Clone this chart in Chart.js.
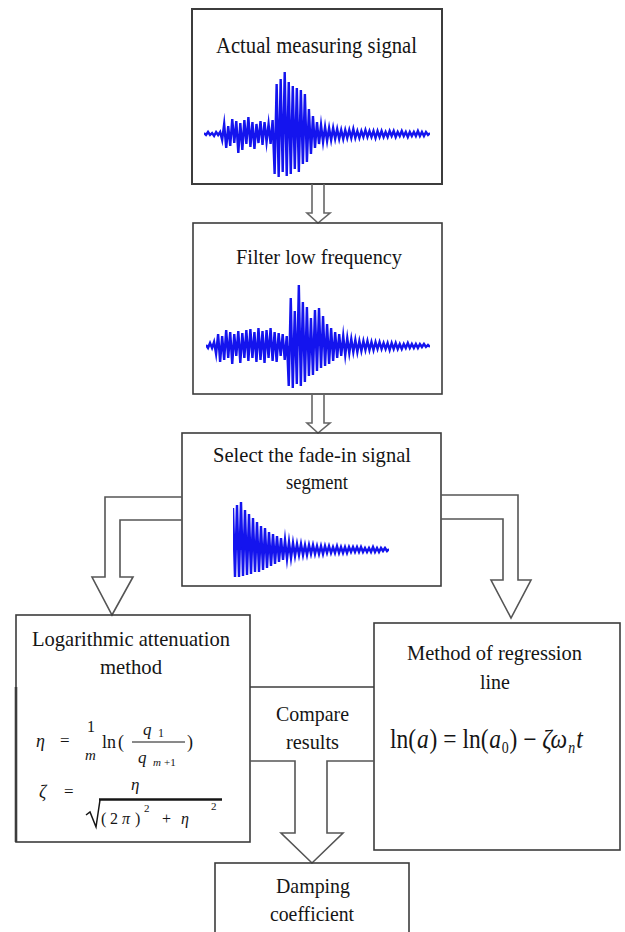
<!DOCTYPE html>
<html>
<head>
<meta charset="utf-8">
<title>Damping coefficient flow</title>
<script src="https://cdn.jsdelivr.net/npm/chart.js@4.4.0/dist/chart.umd.min.js"></script>
<style>
html, body { margin: 0; padding: 0; background: #fff; }
#page { position: relative; width: 625px; height: 932px; overflow: hidden; }
#page svg { position: absolute; left: 0; top: 0; }
#page canvas { position: absolute; }
</style>
</head>
<body>
<div id="page">
<svg width="625" height="932" xmlns="http://www.w3.org/2000/svg">
  <g fill="none" stroke="#3c3c3c" stroke-width="1.6">
    <rect x="192" y="9" width="250" height="175" stroke-width="2"/>
    <path d="M312,184 V213 H307 L318,223 L330,213 H324 V184" stroke="#666"/>
    <rect x="193" y="223" width="249" height="171"/>
    <path d="M312,394 V423 H307 L318,433 L330,423 H324 V394" stroke="#666"/>
    <rect x="182" y="433" width="259" height="153"/>
    <path d="M182,497 H105 V577 H92 L112,615 L133,577 H120 V520 H182" stroke="#555"/>
    <path d="M441,495 H518 V580 H531 L511,618 L491,580 H503 V519 H441" stroke="#555"/>
    <rect x="16" y="615" width="234" height="227"/>
    <path d="M16,687 V842" stroke-width="2.6"/>
    <rect x="374" y="623" width="246" height="227"/>
    <path d="M250,687 H374"/>
    <path d="M250,761 H295 V833 H281 L312,863 L343,833 H327 V761 H374" stroke="#555"/>
    <rect x="215" y="863" width="194" height="90"/>
  </g>

  <g font-family="'Liberation Serif','Times New Roman',serif" fill="#151515">
    <text x="216" y="53" font-size="23" textLength="201" lengthAdjust="spacingAndGlyphs">Actual measuring signal</text>
    <text x="236" y="264" font-size="22" textLength="166" lengthAdjust="spacingAndGlyphs">Filter low frequency</text>
    <text x="213" y="462" font-size="22" textLength="198" lengthAdjust="spacingAndGlyphs">Select the fade-in signal</text>
    <text x="286" y="489" font-size="22" textLength="62" lengthAdjust="spacingAndGlyphs">segment</text>
    <text x="32" y="646" font-size="22" textLength="198" lengthAdjust="spacingAndGlyphs">Logarithmic attenuation</text>
    <text x="100" y="674" font-size="22" textLength="62" lengthAdjust="spacingAndGlyphs">method</text>
    <text x="407" y="660" font-size="22" textLength="175" lengthAdjust="spacingAndGlyphs">Method of regression</text>
    <text x="480" y="689" font-size="22" textLength="30" lengthAdjust="spacingAndGlyphs">line</text>
    <text x="276" y="721" font-size="22" textLength="73" lengthAdjust="spacingAndGlyphs">Compare</text>
    <text x="286" y="749" font-size="22" textLength="53" lengthAdjust="spacingAndGlyphs">results</text>
    <text x="276" y="893" font-size="22" textLength="74" lengthAdjust="spacingAndGlyphs">Damping</text>
    <text x="270" y="921" font-size="22" textLength="84" lengthAdjust="spacingAndGlyphs">coefficient</text>

    <!-- regression formula, condensed like the original -->
    <g transform="translate(390,748) scale(0.87,1)" font-size="27">
      <text x="0" y="0">ln(</text>
      <text x="31" y="0" font-style="italic">a</text>
      <text x="45.5" y="0">) = ln(</text>
      <text x="114" y="0" font-style="italic">a</text>
      <text x="128.5" y="5" font-size="16">0</text>
      <text x="137.5" y="0">) −</text>
      <text x="175" y="0" font-style="italic">ζω</text>
      <text x="205" y="5" font-size="16" font-style="italic">n</text>
      <text x="214" y="0" font-style="italic">t</text>
    </g>

    <!-- logarithmic decrement formula -->
    <text x="36" y="747" font-size="18" font-style="italic">η</text>
    <text x="60" y="746" font-size="17">=</text>
    <text x="87" y="732" font-size="16">1</text>
    <text x="85" y="760" font-size="15" font-style="italic">m</text>
    <text x="102" y="748" font-size="18">ln</text>
    <text x="118" y="748" font-size="18">(</text>
    <text x="143" y="735" font-size="17" font-style="italic">q</text>
    <text x="158" y="737" font-size="12">1</text>
    <text x="138" y="763" font-size="17" font-style="italic">q</text>
    <text x="153" y="766" font-size="11" font-style="italic">m</text>
    <text x="164" y="766" font-size="11">+1</text>
    <text x="187" y="748" font-size="18">)</text>

    <text x="39" y="798" font-size="18" font-style="italic">ζ</text>
    <text x="64" y="797" font-size="17">=</text>
    <text x="131" y="790" font-size="17" font-style="italic">η</text>
    <text x="101" y="824" font-size="16">(</text>
    <text x="110" y="824" font-size="16">2</text>
    <text x="122" y="824" font-size="16" font-style="italic">π</text>
    <text x="135" y="824" font-size="16">)</text>
    <text x="144" y="812" font-size="11">2</text>
    <text x="162" y="824" font-size="16">+</text>
    <text x="181" y="824" font-size="16" font-style="italic">η</text>
    <text x="211" y="810" font-size="11">2</text>
  </g>
  <g fill="none" stroke="#151515">
    <path d="M132,742 H185" stroke-width="1"/>
    <path d="M99,799.5 H222" stroke-width="2.4"/>
    <path d="M86,815 L90,812 L96,827 L100,800" stroke-width="1.5"/>
  </g>
</svg>
<canvas id="wave1" width="226" height="110" style="left:204px;top:70px"></canvas>
<canvas id="wave2" width="224" height="112" style="left:206px;top:280px"></canvas>
<canvas id="wave3" width="156" height="80" style="left:233px;top:500px"></canvas>
</div>

<script>
// Signal samples (amplitude, alternating swings)

const measuredSignal = [
    1, -1, 2, -1, 1, -2, 2, -1, 2,
    -6, 10, -14, 8, -12, 15, -9, 13, -19, 11, -16, 14, -10, 17, -13, 12, -15, 10, -9, 13, -11, 12, -8, 10,
    -10, 14,
    -40, 50, -43, 55, -38, 62, -42, 52, -40, 48, -35, 46, -38, 44, -30, 40,
    -28, 25, -20, 18, -14, 12, -10, 9,
    -8, 7, -7, 6, -6, 6, -5, 5, -5, 4, -5, 4, -4, 4, -4, 5, -4, 3, -4, 3, -3, 4, -3, 3, -3, 3, -4, 3,
    -3, 3, -3, 2, -3, 3, -2, 3, -3, 2, -2, 3, -2, 2, -3, 2, -2, 2, -2, 3, -2, 2, -2, 2, -1, 1
];

const filteredSignal = [
    1, -2, 3, -2, 4,
    -8, 12, -16, 10, -14, 16, -12, 14, -18, 12, -10, 15, -17, 13, -12, 16, -15, 17,
    -12, 14, -16, 18, -14, 15, -17, 16, -12, 18, -15, 14, -16, 13, -10, 12, -14, 10,
    -40, 48, -42, 35, -38, 61, -40, 44, -36,
    39, -30, 28, -29, 36, -25, 38, -22, 30, -20,
    22, -18, 18, -15, 14, -12, 12, -10, 10, -9,
    8, -7, 7, -6, 6, -6, 5, -5, 5, -4, 5, -4, 4, -4, 4, -3, 4, -3, 3, -3, 3,
    -4, 3, -3, 3, -3, 2, -3, 2, -2, 3, -2, 2, -2, 2, -2, 2, -1, 2, -1, 1, -1
];

const fadeSegment = [
    42, -27, 45, -27, 48, -26, 40, -25, 36, -24,
    32, -22, 28, -22, 24, -20, 22, -18, 18, -16,
    16, -14, 14, -12, 12, -10, 10, -9, 8, -8,
    7, -6, 6, -5, 6, -5, 5, -5, 5, -4, 5, -4, 4, -4, 4, -4, 4, -3, 4, -3, 3, -3, 4, -3,
    3, -3, 3, -3, 3, -2, 3, -2, 3, -2, 3, -2, 2, -2, 2, -2, 3, -2, 2, -2, 2, -1, 2, -1, 1
];

function drawWave(canvasId, values, yMin, yMax) {
    const ctx = document.getElementById(canvasId);
    return new Chart(ctx, {
        type: 'line',
        data: {
            labels: values.map((v, i) => i),
            datasets: [{
                data: values,
                borderColor: '#1414ee',
                backgroundColor: 'rgba(20, 20, 238, 0.9)',
                borderWidth: 2.4,
                pointRadius: 0,
                tension: 0,
                fill: 'origin'
            }]
        },
        options: {
            responsive: false,
            animation: false,
            devicePixelRatio: 1,
            layout: { padding: 0 },
            plugins: {
                legend: { display: false },
                tooltip: { enabled: false }
            },
            scales: {
                x: { display: false },
                y: { display: false, min: yMin, max: yMax }
            }
        }
    });
}

drawWave('wave1', measuredSignal, -46, 64);
drawWave('wave2', filteredSignal, -46, 66);
drawWave('wave3', fadeSegment, -30, 50);
</script>
</body>
</html>
